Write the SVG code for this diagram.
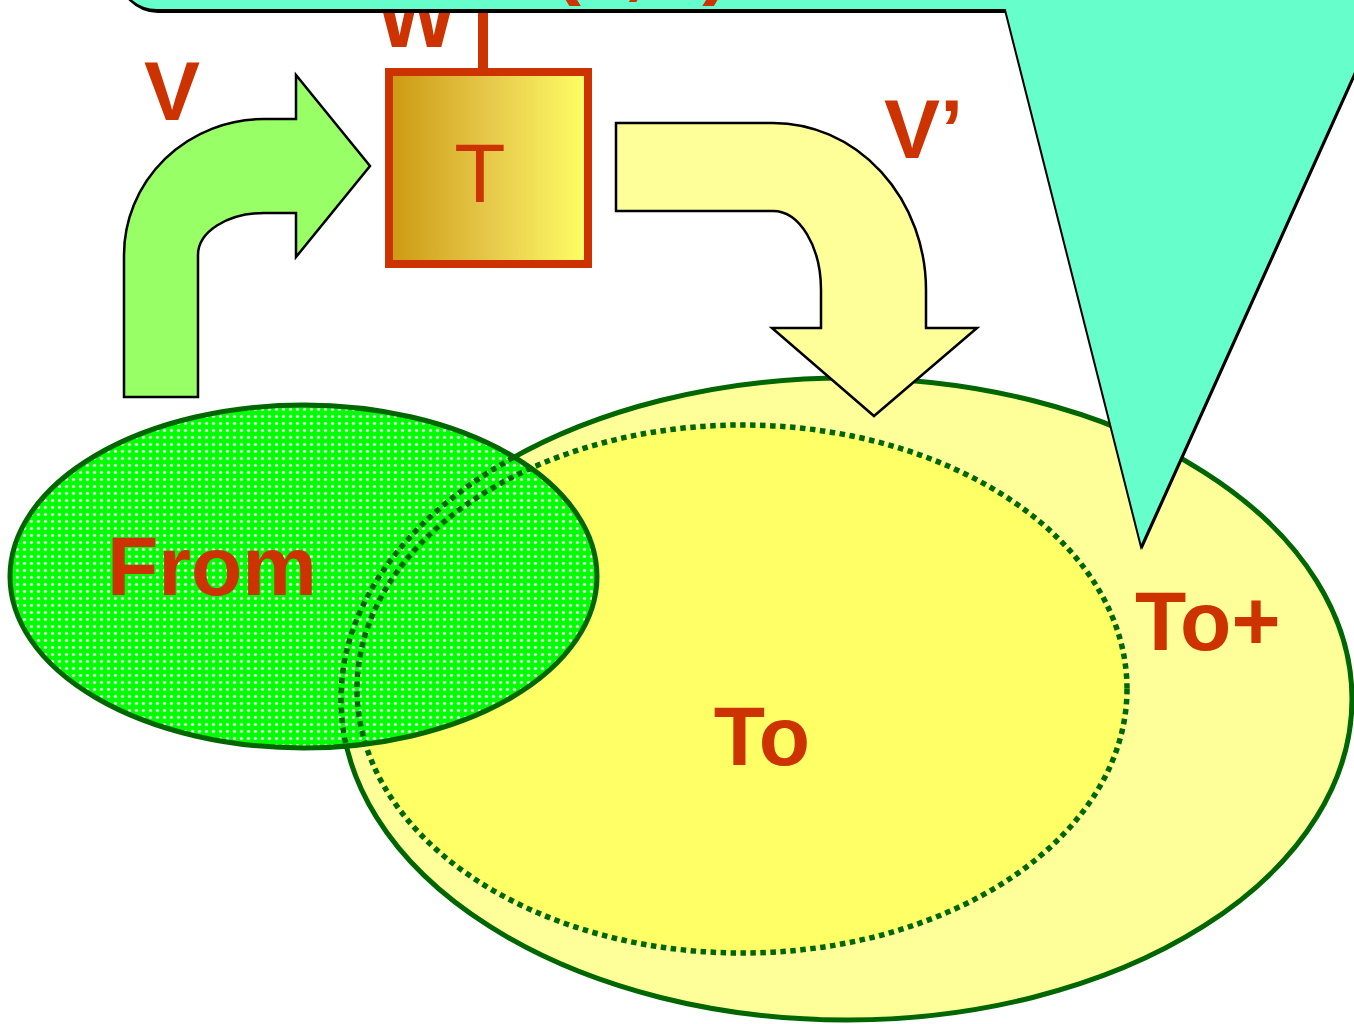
<svg xmlns="http://www.w3.org/2000/svg" width="1354" height="1024" viewBox="0 0 1354 1024">
<style>
.lbl{font-family:"Liberation Sans",Arial,sans-serif;font-weight:bold;fill:#CC3300;font-size:84px}
.arrow{stroke:#000;stroke-width:2.5;stroke-linejoin:miter}
.dot{fill:none;stroke:#006600;stroke-width:5.5;stroke-dasharray:5.5 4.5}
</style>
<defs>
<pattern id="dots" width="7" height="7" patternUnits="userSpaceOnUse">
<rect width="7" height="7" fill="#00FF00"/>
<circle cx="3.5" cy="3.5" r="1.8" fill="#99ff99"/>
<circle cx="3.5" cy="3.5" r="1.1" fill="#ffffff"/>
</pattern>
<linearGradient id="tg" x1="0" y1="0" x2="1" y2="0">
<stop offset="0" stop-color="#CC9911"/>
<stop offset="0.5" stop-color="#E6C84A"/>
<stop offset="1" stop-color="#FFFF66"/>
</linearGradient>
<clipPath id="fromClip"><ellipse cx="303.5" cy="576.5" rx="293.5" ry="171.5"/></clipPath>
</defs>

<g id="toplus">
<ellipse cx="846.5" cy="699" rx="505.5" ry="321" fill="#FFFF99" stroke="#006600" stroke-width="5"/>
<text class="lbl" x="1135" y="650">To+</text>
</g>
<g id="to">
<ellipse cx="742" cy="689" rx="385" ry="264" fill="#FFFF66"/>
<ellipse class="dot" cx="742" cy="689" rx="385" ry="264"/>
<text class="lbl" x="762" y="765" text-anchor="middle">To</text>
</g>
<g id="from">
<ellipse cx="303.5" cy="576.5" rx="293.5" ry="171.5" fill="url(#dots)"/>
<g clip-path="url(#fromClip)">
<ellipse class="dot" cx="846.5" cy="699" rx="505.5" ry="321"/>
<ellipse class="dot" cx="742" cy="689" rx="385" ry="264"/>
</g>
<ellipse cx="303.5" cy="576.5" rx="293.5" ry="171.5" fill="none" stroke="#006600" stroke-width="5"/>
<text class="lbl" x="107" y="595">From</text>
</g>

<g id="connectors">
<path class="arrow" fill="#99FF66" d="M124 397 L124 255 A140 136 0 0 1 264 119 L296 119 L296 75 L370 166 L296 257 L296 213 L264 213 A66 42 0 0 0 198 255 L198 397 Z"/>
<path class="arrow" fill="#FFFF99" d="M616 123 L773 123 A153 167 0 0 1 926 290 L926 328 L977 328 L874 416 L772 328 L821 328 L821 290 A48 79 0 0 0 773 211 L616 211 Z"/>
<line x1="483" y1="8" x2="483" y2="70" stroke="#CC3300" stroke-width="10"/>
</g>

<g id="T">
<rect x="389" y="72" width="199" height="192" fill="url(#tg)" stroke="#CC3300" stroke-width="8"/>
<text x="480" y="202" text-anchor="middle" font-family="Liberation Sans,Arial,sans-serif" font-size="84" fill="#CC3300">T</text>
</g>
<g id="labels">
<text class="lbl" x="144" y="120" font-size="81">V</text>
<text class="lbl" x="884" y="158">V’</text>
<text class="lbl" x="377" y="47" font-size="80">W</text>
</g>

<g id="callout">
<path transform="translate(1,3)" fill="#000" d="M117 -60 L117 -30 A40 40 0 0 0 157 10 L1005 10 L1141 547 L1383 10 L1383 -60 Z"/>
<path fill="#66FFCC" stroke="#000" stroke-width="2" d="M117 -60 L117 -30 A40 40 0 0 0 157 10 L1005 10 L1141 547 L1383 10 L1383 -60 Z"/>
<text class="lbl" x="553" y="-11" font-size="60">(T,V)</text>
</g>
</svg>
